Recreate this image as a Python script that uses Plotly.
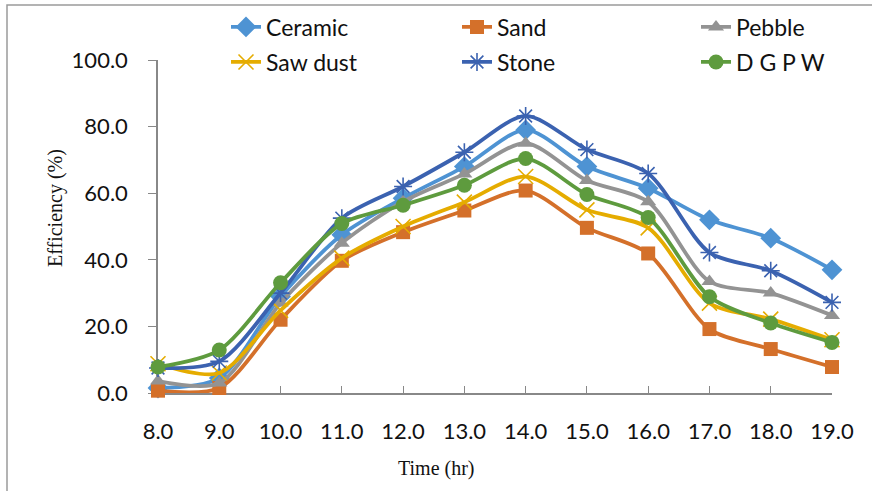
import plotly.graph_objects as go

hours = [8.0, 9.0, 10.0, 11.0, 12.0, 13.0, 14.0, 15.0, 16.0, 17.0, 18.0, 19.0]
ceramic = [1.5, 4.5, 29.0, 47.5, 58.5, 68.0, 79.0, 68.0, 61.5, 52.0, 46.5, 37.0]
sand = [0.7, 1.5, 22.0, 39.7, 48.3, 54.8, 60.8, 49.6, 41.9, 19.2, 13.2, 7.8]
pebble = [3.6, 3.0, 27.0, 45.0, 57.5, 65.8, 75.0, 63.8, 57.4, 33.5, 30.0, 23.3]
sawdust = [8.8, 6.0, 24.8, 40.5, 50.0, 57.3, 65.0, 55.0, 49.6, 27.0, 22.2, 16.0]
stone = [7.5, 9.5, 30.0, 52.5, 62.0, 72.3, 83.2, 73.1, 65.9, 42.2, 36.7, 27.2]
dgpw = [7.8, 12.9, 33.1, 50.9, 56.4, 62.4, 70.4, 59.6, 52.7, 28.9, 21.0, 15.2]

names = ["Ceramic", "Sand", "Pebble", "Saw dust", "Stone", "D G P W"]
series = [ceramic, sand, pebble, sawdust, stone, dgpw]
colors = ["#4E93D3", "#D4702A", "#939393", "#E5AC00", "#3B62B0", "#5E9B3E"]
symbols = ["diamond", "square", "triangle-up", "x-thin", "asterisk", "circle"]
sizes = [16, 14, 14, 15, 15, 15]
legends = ["legend", "legend2", "legend3", "legend4", "legend5", "legend6"]

W, H = 872, 491
L, R, T, B = 158, 40, 60, 98
PW, PH = W - L - R, H - T - B

def px_x(x):
    return (x - L) / PW

def px_y(y):
    return (H - B - y) / PH

fig = go.Figure()
for nm, ys, c, sym, sz, lg in zip(names, series, colors, symbols, sizes, legends):
    thin = sym in ("x-thin", "asterisk")
    fig.add_trace(go.Scatter(
        x=hours, y=ys, name=nm, mode="lines+markers",
        line=dict(color=c, width=3.8, shape="spline", smoothing=0.8),
        marker=dict(symbol=sym, size=sz, color=c,
                    line=dict(color=c, width=1.6 if thin else 0)),
        cliponaxis=False, legend=lg,
    ))

font_tick = dict(family="Lato", size=22, color="#111111")
leg_pos = [(266, 27), (497, 27), (736, 27), (266, 62), (497, 62), (736, 62)]
leg_layout = {}
for lg, (tx, ty) in zip(legends, leg_pos):
    leg_layout[lg] = dict(
        x=px_x(tx - 40), y=px_y(ty), xanchor="left", yanchor="middle",
        font=dict(family="Lato", size=23, color="#111111"),
        bgcolor="rgba(0,0,0,0)", borderwidth=0,
    )

fig.update_layout(
    width=W, height=H,
    margin=dict(l=L, r=R, t=T, b=B, autoexpand=False),
    paper_bgcolor="white", plot_bgcolor="white",
    showlegend=True,
    **leg_layout,
    xaxis=dict(
        range=[8, 19], tickmode="array", tickvals=hours,
        ticktext=[f"{h:.1f}" for h in hours],
        showgrid=False, zeroline=False, showline=True,
        linecolor="#888888", linewidth=1.5,
        ticks="inside", ticklen=7, tickcolor="#888888", tickwidth=1.2,
        tickfont=font_tick, ticklabelstandoff=18, layer="below traces",
    ),
    yaxis=dict(
        range=[0, 100], tickvals=[0, 20, 40, 60, 80, 100],
        ticktext=["0.0", "20.0", "40.0", "60.0", "80.0", "100.0"],
        showgrid=False, zeroline=False, showline=True,
        linecolor="#888888", linewidth=1.5,
        ticks="outside", ticklen=8, tickcolor="#888888", tickwidth=1.2,
        tickfont=font_tick, ticklabelstandoff=16, layer="below traces",
    ),
    annotations=[
        dict(text="Efficiency (%)", xref="paper", yref="paper",
             x=px_x(55), y=px_y(208), textangle=-90, showarrow=False,
             xanchor="center", yanchor="middle",
             font=dict(family="Liberation Serif", size=20, color="#111111")),
        dict(text="Time (hr)", xref="paper", yref="paper",
             x=px_x(436), y=px_y(468), showarrow=False,
             xanchor="center", yanchor="middle",
             font=dict(family="Liberation Serif", size=20, color="#111111")),
    ],
    shapes=[
        dict(type="rect", xref="paper", yref="paper",
             x0=px_x(7), x1=px_x(W + 20), y0=px_y(H + 20), y1=px_y(5),
             line=dict(color="#9A9A9A", width=1.5), fillcolor="rgba(0,0,0,0)",
             layer="below"),
    ],
)

fig.write_html("out.html")
